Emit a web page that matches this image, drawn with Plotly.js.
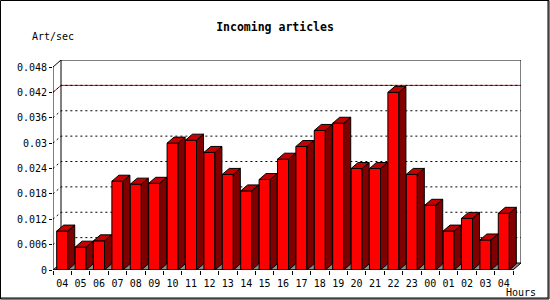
<!DOCTYPE html>
<html>
<head>
<meta charset="utf-8">
<script src="https://cdn.plot.ly/plotly-3.0.1.min.js"></script>
<style>
html, body { margin: 0; padding: 0; background: #fff; }
#chart { width: 550px; height: 300px; }
</style>
</head>
<body>
<div id="chart"></div>
<script>
// ---- data ----
const hours = ["04","05","06","07","08","09","10","11","12","13","14","15","16","17","18","19","20","21","22","23","00","01","02","03","04"];
const rates = [0.0092,0.0054,0.0069,0.0210,0.0203,0.0205,0.0300,0.0307,0.0278,0.0226,0.0187,0.0214,0.0262,0.0292,0.0330,0.0347,0.0240,0.0240,0.0420,0.0226,0.0153,0.0092,0.0122,0.0071,0.0134];
const yTickVals = [0,0.006,0.012,0.018,0.024,0.03,0.036,0.042,0.048];
const yTickText = ["0","0.006","0.012","0.018","0.024","0.03","0.036","0.042","0.048"];
const titleText = "Incoming articles";
const yTitle = "Art/sec";
const xTitle = "Hours";

// ---- geometry / style ----
const W = 550, H = 300;
const M = {l: 53, r: 29, t: 60, b: 30};
const PW = W - M.l - M.r, PH = H - M.t - M.b;
const N = hours.length;
const YMAX = yTickVals[yTickVals.length - 1];
const CAT_PX = 18.4;
const PLANE_DX_PX = 8, PLANE_DY_PX = 7;
const BAR_DX_PX = 7, BAR_DY_PX = 6;
const Y_PX = (PH - PLANE_DY_PX) / YMAX;
const PDX = PLANE_DX_PX / CAT_PX, PDY = PLANE_DY_PX / Y_PX;
const BDX = BAR_DX_PX / CAT_PX, BDY = BAR_DY_PX / Y_PX;
const BAR_W = 0.6;
const FONT = "DejaVu Sans Mono, Liberation Mono, monospace";

const xs = hours.map((_, i) => i);
const X0 = -0.5, X1 = N - 0.5;

// side and top faces from the data values
const sideX = [], sideY = [], topX = [], topY = [];
rates.forEach((v, i) => {
  const xl = i - BAR_W / 2, xr = i + BAR_W / 2;
  sideX.push(xr, xr + BDX, xr + BDX, xr, xr, null);
  sideY.push(0, BDY, v + BDY, v, 0, null);
  topX.push(xl, xl + BDX, xr + BDX, xr, xl, null);
  topY.push(v, v + BDY, v + BDY, v, v, null);
});

const traces = [
  {type: "bar", x: xs, y: rates, width: BAR_W,
   marker: {color: "#ff0000", line: {color: "#000", width: 1}}, hoverinfo: "skip"},
  {type: "scatter", mode: "lines", x: sideX, y: sideY, fill: "toself",
   fillcolor: "#800000", line: {color: "#000", width: 1}, hoverinfo: "skip"},
  {type: "scatter", mode: "lines", x: topX, y: topY, fill: "toself",
   fillcolor: "#c40000", line: {color: "#000", width: 1}, hoverinfo: "skip"}
];

const shapes = [];
// floor
shapes.push({type: "path", layer: "below", xref: "x", yref: "y",
  path: `M${X0},0 L${X0 + PDX},${PDY} L${X1 + PDX},${PDY} L${X1},0 Z`,
  fillcolor: "#8c8c8c", line: {color: "#000", width: 1}});
// red max line
const maxV = Math.max(...rates);
shapes.push({type: "path", layer: "below", xref: "x", yref: "y",
  path: `M${X0},${maxV} L${X0 + PDX},${maxV + PDY} L${X1 + PDX},${maxV + PDY}`,
  line: {color: "#ff0000", width: 1}});
// dotted grid lines on back wall
yTickVals.forEach(v => {
  if (v === 0 || v === YMAX) return;
  shapes.push({type: "path", layer: "below", xref: "x", yref: "y",
    path: `M${X0},${v} L${X0 + PDX},${v + PDY} L${X1 + PDX},${v + PDY}`,
    line: {color: "#000", width: 1, dash: "2px,3px"}});
});
// back wall frame
shapes.push({type: "path", layer: "below", xref: "x", yref: "y",
  path: `M${X0},${YMAX} L${X0 + PDX},${YMAX + PDY} L${X1 + PDX},${YMAX + PDY} L${X1 + PDX},${PDY}`,
  line: {color: "#000", width: 1}});
shapes.push({type: "path", layer: "below", xref: "x", yref: "y",
  path: `M${X0 + PDX},${PDY} L${X0 + PDX},${YMAX + PDY}`,
  line: {color: "#000", width: 1}});
// front axes
shapes.push({type: "path", layer: "above", xref: "x", yref: "y",
  path: `M${X0},${YMAX} L${X0},0 L${X1},0`,
  line: {color: "#000", width: 1}});
// image border
const PX = px => (px - M.l) / PW;
const PY = py => (M.t + PH - py) / PH;
shapes.push({type: "path", layer: "above", xref: "paper", yref: "paper",
  path: `M${PX(0.5)},${PY(0.5)} L${PX(549)},${PY(0.5)} L${PX(549)},${PY(299)} L${PX(0.5)},${PY(299)} Z`,
  line: {color: "#000", width: 1}});
shapes.push({type: "path", layer: "above", xref: "paper", yref: "paper",
  path: `M${PX(548)},${PY(0.5)} L${PX(548)},${PY(298)} L${PX(0.5)},${PY(298)}`,
  line: {color: "#000", width: 1}});

const layout = {
  width: W, height: H, margin: M, autosize: false,
  paper_bgcolor: "#fff", plot_bgcolor: "rgba(0,0,0,0)",
  showlegend: false, hovermode: false,
  font: {family: FONT, size: 10, color: "#000"},
  title: {text: titleText, font: {family: FONT, size: 11.5, weight: "bold", color: "#000"},
          xref: "container", x: 0.5, xanchor: "center",
          yref: "container", y: 1 - 27 / H, yanchor: "middle"},
  xaxis: {range: [X0, X1 + PDX], tickmode: "array", tickvals: xs, ticktext: hours,
          ticks: "outside", ticklen: 4, tickcolor: "rgba(0,0,0,0)",
          minor: {tickmode: "linear", tick0: -0.5, dtick: 1, ticks: "outside", ticklen: 4, tickcolor: "#000", tickwidth: 1, showgrid: false},
          showgrid: false, zeroline: false, showline: false, fixedrange: true,
          tickfont: {family: FONT, size: 10, color: "#000"}},
  yaxis: {range: [0, YMAX + PDY], tickmode: "array", tickvals: yTickVals, ticktext: yTickText,
          ticks: "outside", ticklen: 3, tickcolor: "#000", tickwidth: 1,
          showgrid: false, zeroline: false, showline: false, fixedrange: true,
          tickfont: {family: FONT, size: 10, color: "#000"}},
  shapes: shapes,
  annotations: [
    {text: yTitle, xref: "paper", yref: "paper", x: PX(30), y: PY(37), xanchor: "left", yanchor: "middle",
     showarrow: false, font: {family: FONT, size: 10, color: "#000"}},
    {text: xTitle, xref: "paper", yref: "paper", x: PX(504), y: PY(292), xanchor: "left", yanchor: "middle",
     showarrow: false, font: {family: FONT, size: 10, color: "#000"}}
  ]
};

Plotly.newPlot("chart", traces, layout, {displayModeBar: false, staticPlot: true});
</script>
</body>
</html>
